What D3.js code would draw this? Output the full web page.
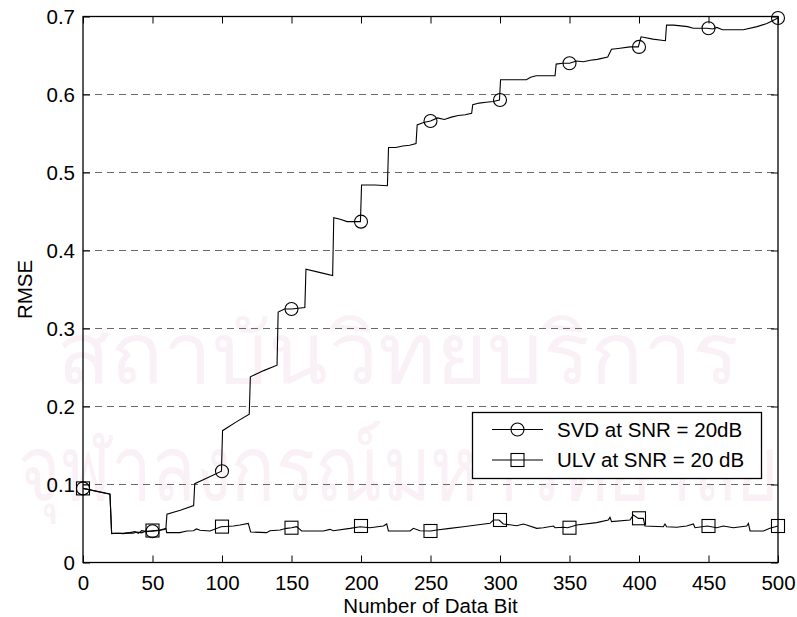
<!DOCTYPE html>
<html>
<head>
<meta charset="utf-8">
<script src="https://cdn.jsdelivr.net/npm/d3@7"></script>
<style>
  html, body { margin: 0; padding: 0; background: #ffffff; }
  svg { display: block; }
  text { font-family: "Liberation Sans", Arial, Helvetica, sans-serif; }
</style>
</head>
<body>
<svg id="chart" width="797" height="617"></svg>
<script>
// ---------------- data ----------------
const xTicks = [0, 50, 100, 150, 200, 250, 300, 350, 400, 450, 500];
const yTicks = [0, 0.1, 0.2, 0.3, 0.4, 0.5, 0.6, 0.7];
const yTickLabels = ["0", "0.1", "0.2", "0.3", "0.4", "0.5", "0.6", "0.7"];
const xLabel = "Number of Data Bit";
const yLabel = "RMSE";
const seriesNames = ["SVD at SNR = 20dB", "ULV at SNR = 20 dB"];
const watermarkLines = ["สถาบันวิทยบริการ", "จุฬาลงกรณ์มหาวิทยาลัย"];

// SVD curve vertices (number of data bit, RMSE)
const svdX = [0, 19.4, 20.6, 25, 29, 33, 36, 39, 42, 45, 50, 55, 59.6, 60.4, 70, 79.6, 80.4, 90, 99.6, 100.4,
  110, 119.6, 120.4, 130, 139.6, 140.4, 145, 150, 159.6, 160.4, 170, 179.6, 180.4, 185, 190, 199.6, 200.4,
  210, 219, 219.8, 225, 230, 235, 239.6, 240.4, 245, 250, 255, 260, 265, 270, 275, 279.6, 280.4, 285, 290,
  295, 299.6, 300.4, 310, 319, 322, 326, 339.6, 340.4, 345, 350, 355, 360, 365, 370, 377.5, 380.2, 385,
  393.5, 399.5, 401.5, 410, 419, 419.8, 425, 430, 435, 439, 449, 453, 456, 460, 475, 485, 492, 500];
const svdY = [0.095, 0.088, 0.037, 0.0375, 0.037, 0.038, 0.0375, 0.039, 0.038, 0.040, 0.040, 0.041, 0.043, 0.062,
  0.067, 0.073, 0.101, 0.109, 0.117, 0.169, 0.180, 0.190, 0.238, 0.246, 0.253, 0.321, 0.325, 0.325, 0.327,
  0.376, 0.372, 0.368, 0.442, 0.440, 0.437, 0.437, 0.484, 0.484, 0.483, 0.532, 0.532, 0.534, 0.535, 0.537,
  0.561, 0.564, 0.566, 0.570, 0.568, 0.571, 0.573, 0.574, 0.576, 0.587, 0.589, 0.590, 0.591, 0.593, 0.619,
  0.619, 0.619, 0.622, 0.624, 0.624, 0.639, 0.640, 0.640, 0.643, 0.642, 0.644, 0.645, 0.648, 0.658, 0.659,
  0.661, 0.661, 0.674, 0.671, 0.669, 0.689, 0.689, 0.688, 0.687, 0.685, 0.685, 0.684, 0.686, 0.683, 0.683,
  0.687, 0.691, 0.698];

// ULV curve vertices
const ulvX = [0, 19.4, 20.6, 29, 33.8, 37.4, 39.8, 42.2, 45.8, 49.9, 55.4, 59.7, 60.2, 69.7, 74.6, 79.4, 81.7,
  84.2, 91.4, 99.3, 108.2, 113, 118.9, 120.6, 132.1, 134.5, 141.7, 146.5, 150.1, 153.7, 157.3, 172.9, 177.7,
  180.1, 192.1, 199.3, 206.5, 216.1, 218.5, 219.7, 235.3, 237.7, 242.4, 250.1, 254.4, 264, 273.6, 283.2,
  292.8, 295.2, 299.3, 302.4, 312, 316.8, 319.2, 326.4, 331.2, 338.4, 339.6, 345.6, 348.7, 355.2, 369.5,
  377.9, 379.1, 380.3, 393.5, 395.9, 399.5, 403.1, 404.3, 417.5, 418.7, 419.9, 427.1, 434.3, 439.1, 440.3,
  449.2, 455.9, 460.7, 467.9, 477.5, 478.7, 479.9, 489.5, 494.2, 500];
const ulvY = [0.095, 0.0874, 0.0374, 0.0374, 0.0383, 0.0396, 0.0374, 0.0408, 0.0396, 0.0408, 0.0417, 0.0438,
  0.0383, 0.0383, 0.0404, 0.0408, 0.0430, 0.0413, 0.0404, 0.0459, 0.0468, 0.0481, 0.0502, 0.0391, 0.0383,
  0.0408, 0.0417, 0.0438, 0.0446, 0.0459, 0.0404, 0.0404, 0.0425, 0.0408, 0.0438, 0.0459, 0.0446, 0.0468,
  0.0494, 0.0404, 0.0404, 0.0438, 0.0408, 0.0404, 0.0417, 0.0438, 0.0459, 0.0481, 0.0502, 0.0545, 0.0545,
  0.0494, 0.0472, 0.0494, 0.0481, 0.0438, 0.0446, 0.0468, 0.0446, 0.0451, 0.0446, 0.0481, 0.0511, 0.0545,
  0.0579, 0.0524, 0.0545, 0.0609, 0.0566, 0.0566, 0.0468, 0.0459, 0.0494, 0.0459, 0.0451, 0.0468, 0.0494,
  0.0446, 0.0468, 0.0446, 0.0468, 0.0446, 0.0468, 0.0502, 0.0404, 0.0404, 0.0438, 0.0468];

// markers (every 50 data bits)
const markerX = [0, 50, 100, 150, 200, 250, 300, 350, 400, 450, 500];
const svdMarkerY = [0.095, 0.040, 0.117, 0.325, 0.437, 0.566, 0.593, 0.640, 0.661, 0.685, 0.698];
const ulvMarkerY = [0.095, 0.041, 0.046, 0.0446, 0.0468, 0.0404, 0.0545, 0.0446, 0.0567, 0.0468, 0.0468];

// ---------------- layout ----------------
const W = 797, H = 617;
const plot = { left: 83, right: 778, top: 16.5, bottom: 562.5 };
const fontSize = 20.5;
const svg = d3.select("#chart");

const x = d3.scaleLinear().domain([0, 500]).range([plot.left, plot.right]);
const y = d3.scaleLinear().domain([0, 0.7]).range([plot.bottom, plot.top]);

// watermark (very faint, behind everything); width fitted by measuring the text
const wm = svg.append("g").attr("fill", "#faf1f6").attr("font-family", "'Noto Sans', 'DejaVu Sans', sans-serif");
const wmSpecs = [
  { cx: 398, base: 383, size: 84, width: 680 },
  { cx: 398.5, base: 500, size: 90, width: 760 }
];
wmSpecs.forEach((spec, i) => {
  const t = wm.append("text").attr("text-anchor", "middle").attr("x", 0).attr("y", 0)
    .attr("font-size", spec.size).text(watermarkLines[i]);
  const natural = t.node().getComputedTextLength() || spec.width;
  const fs = spec.size * spec.width / natural;
  t.attr("font-size", fs)
    .attr("transform", `translate(${spec.cx},${spec.base}) scale(1,${spec.size / fs})`);
});

// grid lines (horizontal, dashed)
svg.append("g").selectAll("line")
  .data(yTicks.filter(d => d > 0 && d < 0.7))
  .join("line")
  .attr("x1", plot.left).attr("x2", plot.right)
  .attr("y1", d => Math.round(y(d)) + 0.5).attr("y2", d => Math.round(y(d)) + 0.5)
  .attr("stroke", "#6a6a6a").attr("stroke-width", 1.2)
  .attr("stroke-dasharray", "7,5");

// axes via d3
const tickLen = 7;
const gBottom = svg.append("g").attr("transform", `translate(0,${plot.bottom})`)
  .call(d3.axisBottom(x).tickValues(xTicks).tickSizeInner(-tickLen).tickSizeOuter(0).tickPadding(13)
    .tickFormat(d3.format("d")));
const gLeft = svg.append("g").attr("transform", `translate(${plot.left},0)`)
  .call(d3.axisLeft(y).tickValues(yTicks).tickSizeInner(-tickLen).tickSizeOuter(0).tickPadding(8)
    .tickFormat((d, i) => yTickLabels[i]));
const gTop = svg.append("g").attr("transform", `translate(0,${plot.top})`)
  .call(d3.axisTop(x).tickValues(xTicks).tickSizeInner(-tickLen).tickSizeOuter(0).tickFormat(""));
const gRight = svg.append("g").attr("transform", `translate(${plot.right},0)`)
  .call(d3.axisRight(y).tickValues(yTicks).tickSizeInner(-tickLen).tickSizeOuter(0).tickFormat(""));

[gBottom, gLeft, gTop, gRight].forEach(g => {
  g.select(".domain").remove();
  g.selectAll(".tick line").attr("stroke", "#000").attr("stroke-width", 1);
  g.selectAll(".tick text").attr("fill", "#000").attr("font-size", fontSize)
    .attr("font-family", "'Liberation Sans', Arial, sans-serif");
});
gBottom.selectAll(".tick text").attr("dy", "0.71em");

// frame
svg.append("rect")
  .attr("x", plot.left).attr("y", plot.top)
  .attr("width", plot.right - plot.left).attr("height", plot.bottom - plot.top)
  .attr("fill", "none").attr("stroke", "#000").attr("stroke-width", 1.3);

// curves
const line = d3.line().x(d => x(d[0])).y(d => y(d[1]));
const svdPts = svdX.map((v, i) => [v, svdY[i]]);
const ulvPts = ulvX.map((v, i) => [v, ulvY[i]]);

const curves = svg.append("g");
curves.append("path").datum(svdPts).attr("d", line)
  .attr("fill", "none").attr("stroke", "#000").attr("stroke-width", 1.1);
curves.append("path").datum(ulvPts).attr("d", line)
  .attr("fill", "none").attr("stroke", "#000").attr("stroke-width", 1.1);

// markers
const r = 6.5, s = 13;
curves.selectAll("circle.svd").data(markerX.map((v, i) => [v, svdMarkerY[i]]))
  .join("circle").attr("class", "svd")
  .attr("cx", d => x(d[0])).attr("cy", d => y(d[1])).attr("r", r)
  .attr("fill", "none").attr("stroke", "#000").attr("stroke-width", 1.1);
curves.selectAll("rect.ulv").data(markerX.map((v, i) => [v, ulvMarkerY[i]]))
  .join("rect").attr("class", "ulv")
  .attr("x", d => x(d[0]) - s / 2).attr("y", d => y(d[1]) - s / 2)
  .attr("width", s).attr("height", s)
  .attr("fill", "none").attr("stroke", "#000").attr("stroke-width", 1.1);

// axis titles
svg.append("text").attr("x", (plot.left + plot.right) / 2).attr("y", 613)
  .attr("text-anchor", "middle").attr("font-size", fontSize).attr("fill", "#000").text(xLabel);
svg.append("text").attr("transform", `translate(32,${(plot.top + plot.bottom) / 2}) rotate(-90)`)
  .attr("text-anchor", "middle").attr("font-size", fontSize).attr("fill", "#000").text(yLabel);

// legend
const lg = svg.append("g");
lg.append("rect").attr("x", 472.5).attr("y", 412.5).attr("width", 289).attr("height", 66)
  .attr("fill", "#fff").attr("stroke", "#000").attr("stroke-width", 1.3);
const rowsY = [429.5, 460];
rowsY.forEach((ry, i) => {
  lg.append("line").attr("x1", 492).attr("x2", 543).attr("y1", ry).attr("y2", ry)
    .attr("stroke", "#000").attr("stroke-width", 1.1);
  if (i === 0) {
    lg.append("circle").attr("cx", 517.5).attr("cy", ry).attr("r", r)
      .attr("fill", "none").attr("stroke", "#000").attr("stroke-width", 1.1);
  } else {
    lg.append("rect").attr("x", 517.5 - s / 2).attr("y", ry - s / 2).attr("width", s).attr("height", s)
      .attr("fill", "none").attr("stroke", "#000").attr("stroke-width", 1.1);
  }
  lg.append("text").attr("x", 557).attr("y", ry + 7.3).attr("font-size", fontSize).attr("fill", "#000")
    .text(seriesNames[i]);
});
</script>
</body>
</html>
